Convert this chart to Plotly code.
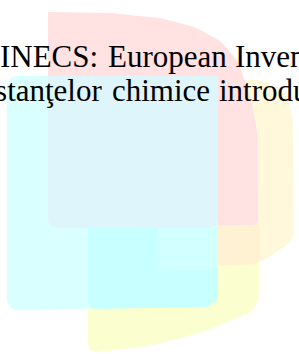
import math
import plotly.graph_objects as go

W, H = 299, 354

# Caption words (paragraph cut off by the frame): text, anchor x, anchor side, baseline y
words = ["EINECS:", "European", "Inventory", "substanţelor", "chimice", "introduse"]
word_x = [-20, 107, 234, 103, 111, 218]
word_anchor = ["left", "left", "left", "right", "left", "left"]
word_y = [67, 67, 67, 101, 101, 101]
word_size = [31, 31, 31, 31, 31, 31]

# Logo layers (bottom to top): name, colour, outline vertices, corner radius
layer_names = ["yellow_back", "yellow_front", "peach", "pink", "cyan", "blue_overlap",
               "cyan_dark", "cyan_inner"]
layer_colors = ["#fff8da", "#fbffcf", "#fff2d2", "#ffe2e1", "#d9ffff", "#def5fc",
                "#c8ffff", "#d2ffff"]
layer_points = [
    [(210, 80), (262, 80), (286, 92), (293, 120), (294, 240), (262, 262), (210, 265)],
    [(88, 226), (259, 224), (259, 300), (252, 312), (200, 333), (150, 346), (88, 353)],
    [(216, 222), (260, 222), (260, 264), (216, 266)],
    [(48, 12), (110, 13), (160, 18), (195, 27), (222, 42), (238, 62), (250, 95),
     (257, 130), (258, 225), (48, 226)],
    [(7, 76), (218, 76), (218, 300), (208, 307), (7, 310)],
    [(48, 76), (218, 76), (218, 228), (48, 228)],
    [(88, 228), (218, 228), (218, 300), (208, 307), (88, 309)],
    [(158, 228), (218, 228), (218, 270), (158, 270)],
]
layer_radius = [10, 10, 8, 6, 12, 10, 10, 8]
layer_round_top = [True, True, True, False, True, False, False, False]


def rounded_path(pts, r, round_top):
    n = len(pts)
    top = min(p[1] for p in pts)
    segs = []
    for i in range(n):
        p0 = pts[i - 1]
        p1 = pts[i]
        p2 = pts[(i + 1) % n]
        d1 = math.hypot(p1[0] - p0[0], p1[1] - p0[1])
        d2 = math.hypot(p2[0] - p1[0], p2[1] - p1[1])
        rr = min(r, d1 / 2, d2 / 2)
        if not round_top and p1[1] <= top + 1:
            rr = 0
        a = (p1[0] + (p0[0] - p1[0]) * rr / d1, p1[1] + (p0[1] - p1[1]) * rr / d1)
        b = (p1[0] + (p2[0] - p1[0]) * rr / d2, p1[1] + (p2[1] - p1[1]) * rr / d2)
        segs.append((a, p1, b))
    d = f"M {segs[0][2][0]:.1f},{segs[0][2][1]:.1f} "
    for i in range(1, n + 1):
        a, c, b = segs[i % n]
        d += f"L {a[0]:.1f},{a[1]:.1f} Q {c[0]:.1f},{c[1]:.1f} {b[0]:.1f},{b[1]:.1f} "
    return d + "Z"


fig = go.Figure()
fig.add_trace(go.Scatter(x=[0, W], y=[0, H], mode="markers",
                         marker=dict(opacity=0), hoverinfo="skip", showlegend=False))

for name, col, pts, r, rt in zip(layer_names, layer_colors, layer_points,
                                 layer_radius, layer_round_top):
    fig.add_shape(type="path", path=rounded_path(pts, r, rt), xref="x", yref="y",
                  fillcolor=col, line=dict(width=0), layer="below", name=name)

# baseline -> bottom of text box: descender of Liberation Serif ~0.22 em plus padding
for t, x, a, y, s in zip(words, word_x, word_anchor, word_y, word_size):
    fig.add_annotation(text=t, x=x / W, y=1 - y / H, xref="paper", yref="paper",
                       xanchor=a, yanchor="bottom", yshift=-(0.216 * s + 1),
                       showarrow=False, borderpad=0,
                       font=dict(family="Liberation Serif", size=s, color="#000000"))

fig.update_layout(
    width=W, height=H, margin=dict(l=0, r=0, t=0, b=0),
    paper_bgcolor="white", plot_bgcolor="white",
    xaxis=dict(range=[0, W], visible=False, fixedrange=True),
    yaxis=dict(range=[H, 0], visible=False, fixedrange=True),
    showlegend=False,
)
fig.write_html("out.html", config={"displayModeBar": False},
               post_script="document.body.style.margin='0';document.body.style.overflow='hidden';")
